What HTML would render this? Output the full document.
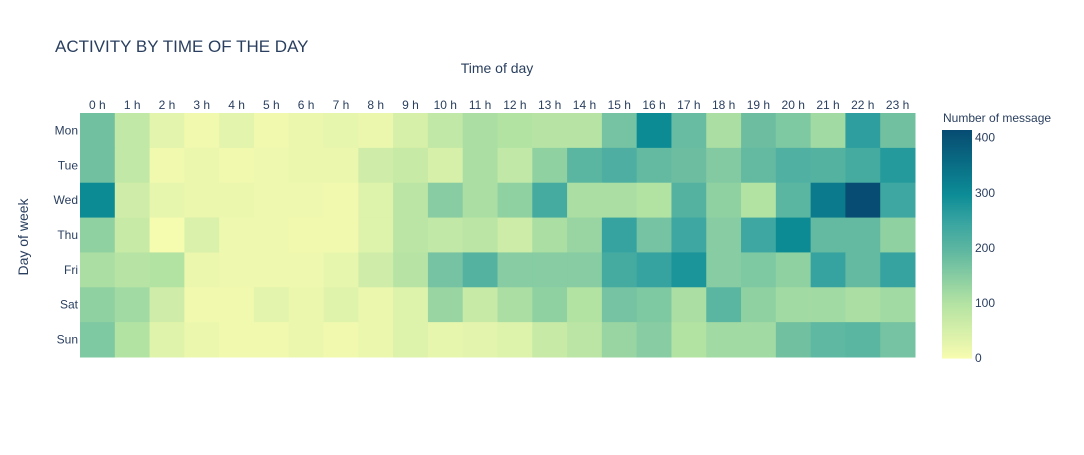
<!DOCTYPE html>
<html><head><meta charset="utf-8"><style>
body{margin:0;background:#fff;font-family:"Liberation Sans",sans-serif;}
svg text{fill:#2a3f5f;font-family:"Liberation Sans",sans-serif;}
</style></head><body>
<svg id="c" width="1084" height="450">
<text x="55" y="52" font-size="17">ACTIVITY BY TIME OF THE DAY</text>
<text x="497" y="73" font-size="14" text-anchor="middle">Time of day</text>
<text transform="translate(28,237) rotate(-90)" font-size="14" text-anchor="middle">Day of week</text>
<text x="943" y="122" font-size="12">Number of message</text>
<g id="cells"></g><g id="xt"></g><g id="yt"></g><g id="cb"></g>
</svg>
<script>
const hours=["0 h","1 h","2 h","3 h","4 h","5 h","6 h","7 h","8 h","9 h","10 h","11 h","12 h","13 h","14 h","15 h","16 h","17 h","18 h","19 h","20 h","21 h","22 h","23 h"];
const days=["Mon","Tue","Wed","Thu","Fri","Sat","Sun"];
const mon=[175,80,30,10,30,10,20,25,20,50,80,110,100,95,95,170,300,185,110,180,160,120,260,175];
const tue=[175,80,10,20,10,15,20,20,60,70,50,110,80,140,200,220,190,180,155,190,215,210,230,270];
const wed=[300,60,25,20,20,15,15,10,40,90,150,110,140,230,110,110,100,210,140,100,200,330,420,240];
const thu=[140,70,5,45,15,15,10,10,40,90,80,90,65,110,130,250,170,240,150,240,300,190,190,140];
const fri=[110,95,100,20,15,15,15,25,60,95,170,210,150,150,150,230,250,280,150,160,140,250,190,250];
const sat=[140,120,60,10,10,30,20,35,20,40,130,70,110,140,100,170,160,110,200,140,120,120,110,120];
const sun=[160,100,35,20,10,10,20,10,20,40,25,30,40,70,90,130,150,100,120,120,175,195,200,170];
const zmax=414;
const cbTicks=[0,100,200,300,400];
const rows=[mon,tue,wed,thu,fri,sat,sun];
const scale=[[0,[248,252,176]],[0.24,[180,227,163]],[0.48,[92,182,161]],[0.6,[56,164,161]],[0.72,[12,140,150]],[1,[7,76,114]]];
function col(v){let t=Math.max(0,Math.min(1,v/zmax));for(let i=1;i<scale.length;i++){if(t<=scale[i][0]){const a=scale[i-1],b=scale[i],f=(t-a[0])/(b[0]-a[0]);return 'rgb('+a[1].map((c,k)=>Math.round(c+(b[1][k]-c)*f)).join(',')+')';}}return 'rgb(7,76,114)';}
const X0=80,X1=915,Y0=113,Y1=357,cw=(X1-X0)/hours.length,rh=(Y1-Y0)/days.length;
const xs=i=>X0+i*cw, ys=j=>Y0+j*rh;
const NS='http://www.w3.org/2000/svg';
const g=document.getElementById('cells');
rows.forEach((r,j)=>r.forEach((v,i)=>{const e=document.createElementNS(NS,'rect');
e.setAttribute('x',xs(i));e.setAttribute('y',ys(j));e.setAttribute('width',cw+0.5);e.setAttribute('height',rh+0.5);e.setAttribute('fill',col(v));


g.appendChild(e);}));
const xt=document.getElementById('xt');
hours.forEach((h,i)=>{const t=document.createElementNS(NS,'text');t.setAttribute('x',xs(i)+cw/2);t.setAttribute('y',109);t.setAttribute('font-size','12');t.setAttribute('text-anchor','middle');t.textContent=h;


xt.appendChild(t);});
const yt=document.getElementById('yt');
days.forEach((d,j)=>{const t=document.createElementNS(NS,'text');t.setAttribute('x',78);t.setAttribute('y',ys(j)+rh/2+4);t.setAttribute('font-size','12');t.setAttribute('text-anchor','end');t.textContent=d;


yt.appendChild(t);});
const cb=document.getElementById('cb');const CB0=130,CB1=358;const cy=v=>CB1-(v/zmax)*(CB1-CB0);
for(let k=0;k<114;k++){const v0=zmax*k/114,r=document.createElementNS(NS,'rect');r.setAttribute('x',942);r.setAttribute('y',cy(v0+zmax/114));r.setAttribute('width',30);r.setAttribute('height',(CB1-CB0)/114+0.6);r.setAttribute('fill',col(v0+zmax/228));


cb.appendChild(r);}
cbTicks.forEach(v=>{const t=document.createElementNS(NS,'text');t.setAttribute('x',975);t.setAttribute('y',cy(v)+4);t.setAttribute('font-size','12');t.textContent=v;


cb.appendChild(t);});
</script>
</body></html>
